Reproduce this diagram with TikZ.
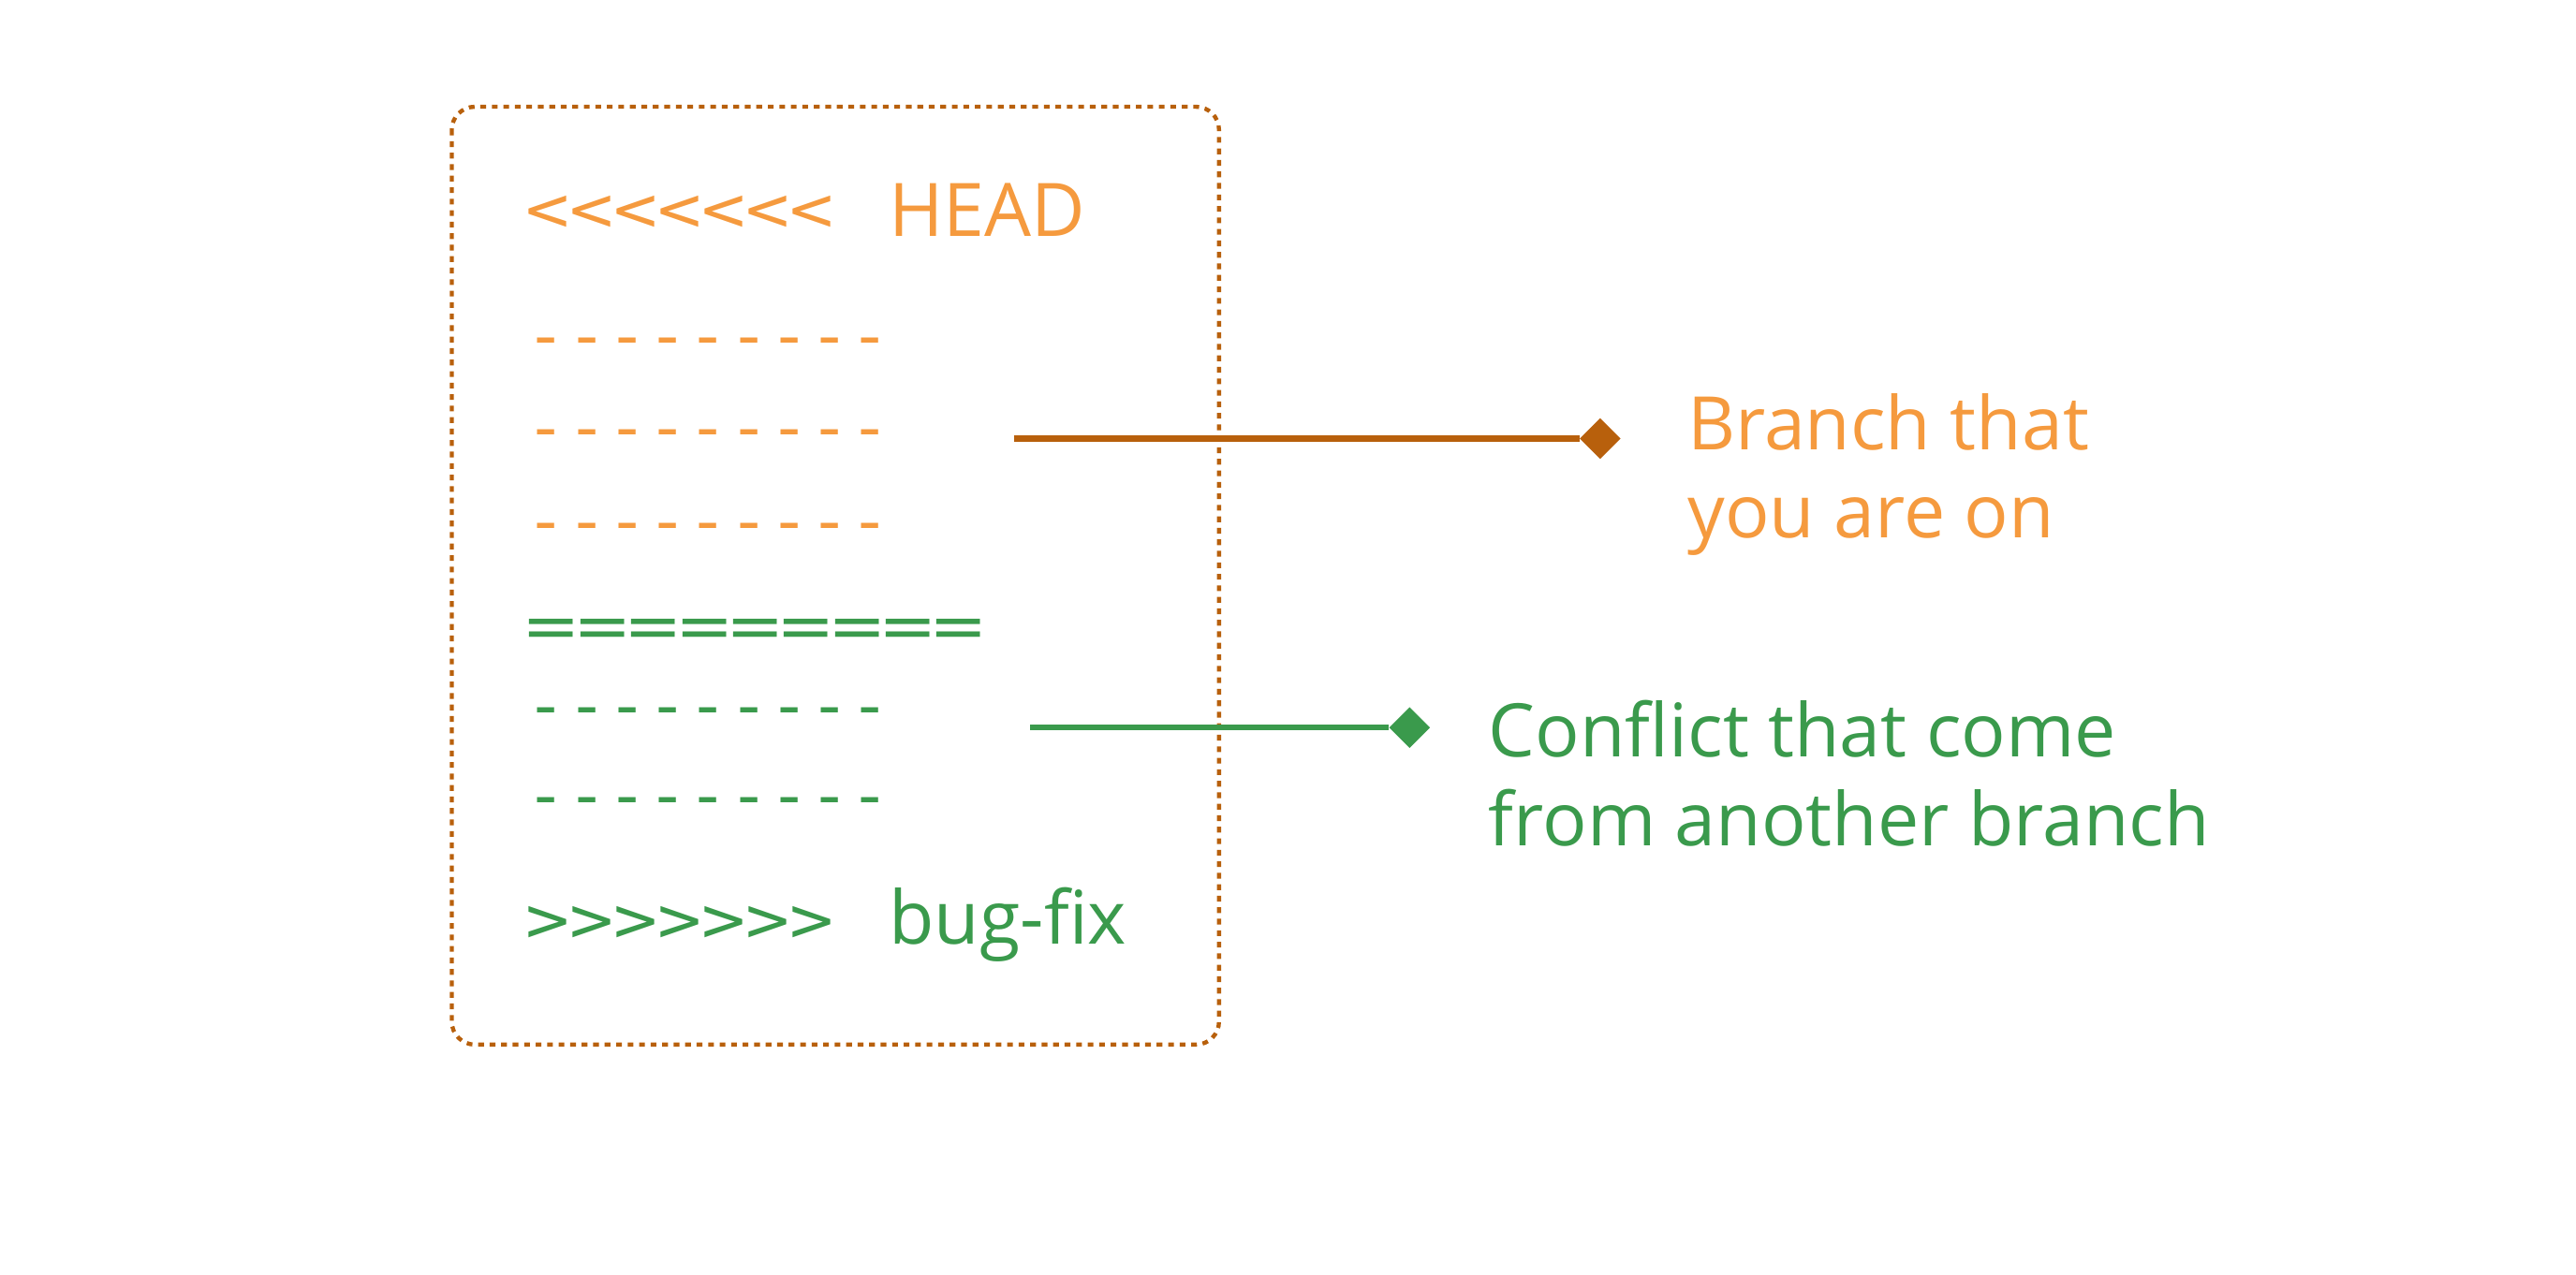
\documentclass[tikz,border=0pt]{standalone}
\usepackage{fontspec}
\setmainfont{Open Sans}
\newfontfamily\monof{DejaVu Sans Mono}
\usetikzlibrary{shapes.geometric}
\definecolor{brn}{HTML}{B8600C}
\definecolor{org}{HTML}{F59A3E}
\definecolor{grn}{HTML}{3A9A4C}
\tikzset{
 txt/.style={anchor=west,inner sep=0pt,font=\fontsize{45}{54}\selectfont},
 mono/.style={anchor=west,inner sep=0pt,font=\monof\fontsize{39}{46}\selectfont},
 dia/.style={diamond,fill=#1,minimum size=25pt,inner sep=0pt},
}
\begin{document}
\begin{tikzpicture}[x=1pt,y=-1pt]
\useasboundingbox (0,0) rectangle (1568,776);
\draw[brn,line width=2.5pt,dash pattern=on 3.5pt off 3.5pt,rounded corners=14pt] (275,65) rectangle (742,636);
\node[mono,org,xscale=1.14] (lt) at (320,130) {<<<<<<<};
\node[txt,org] (head) at (541,128) {HEAD};
\node[mono,org,xscale=1.05] (d1) at (320,212) {---------};
\node[mono,org,xscale=1.05] (d2) at (320,268) {---------};
\node[mono,org,xscale=1.05] (d3) at (320,325) {---------};
\node[mono,grn,xscale=1.32] (eq) at (320,386) {=========};
\node[mono,grn,xscale=1.05] (d4) at (320,437) {---------};
\node[mono,grn,xscale=1.05] (d5) at (320,492) {---------};
\node[mono,grn,xscale=1.14] (gt) at (320,563) {>>>>>>>};
\node[txt,grn] (bf) at (541,563) {bug-fix};
\coordinate (s1) at (617,267);
\node[dia=brn] (m1) at (974,267) {};
\draw[brn,line width=3.5pt] (s1) -- (m1.west);
\node[txt,org,align=left] (t1) at (1027,289) {Branch that\\you are on};
\coordinate (s2) at (627,443);
\node[dia=grn] (m2) at (858,443) {};
\draw[grn,line width=3.5pt] (s2) -- (m2.west);
\node[txt,grn,align=left] (t2) at (906,471) {Conflict that come\\from another branch};
\end{tikzpicture}
\end{document}
